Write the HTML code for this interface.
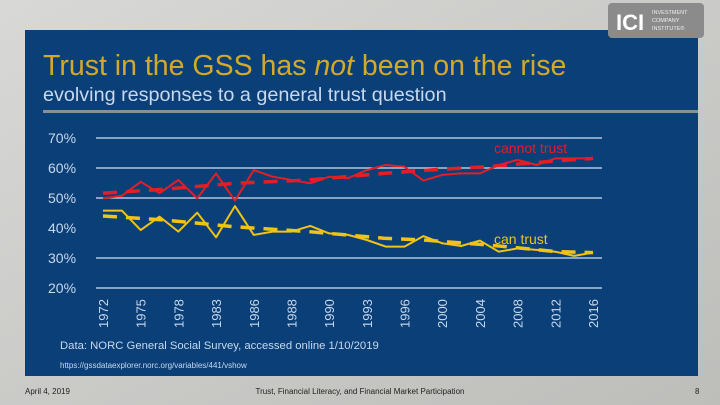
<!DOCTYPE html>
<html><head><meta charset="utf-8"><style>
body{margin:0;width:720px;height:405px;overflow:hidden;font-family:"Liberation Sans",sans-serif}
svg{display:block}
text{font-family:"Liberation Sans",sans-serif}
</style></head><body>
<svg width="720" height="405" viewBox="0 0 720 405">
<defs><linearGradient id="bg" x1="0" y1="0" x2="1" y2="1"><stop offset="0" stop-color="#d8d8d6"/><stop offset="1" stop-color="#bdbdba"/></linearGradient></defs>
<rect width="720" height="405" fill="url(#bg)"/>
<rect x="25" y="30" width="673" height="346" fill="#0a3f78"/>
<g>
<rect x="608" y="3" width="96" height="35" rx="4" fill="#8b8b8b"/>
<text x="616" y="30" font-size="22" font-weight="bold" fill="#fff">ICI</text>
<text x="652" y="14" font-size="5.5" fill="#eee">INVESTMENT</text>
<text x="652" y="22" font-size="5.5" fill="#eee">COMPANY</text>
<text x="652" y="30" font-size="5.5" fill="#eee">INSTITUTE®</text>
</g>
<text x="43" y="75" font-size="28.5" fill="#d4a92a">Trust in the GSS has <tspan font-style="italic">not</tspan> been on the rise</text>
<text x="43" y="101" font-size="19.8" fill="#c8d8ee">evolving responses to a general trust question</text>
<rect x="43" y="110" width="655" height="3" fill="#8a8f98"/>
<g id="chart"></g>
<text x="60" y="349" font-size="11.3" fill="#c8d8ee">Data: NORC General Social Survey, accessed online 1/10/2019</text>
<text x="60" y="368" font-size="8" fill="#c8d8ee">https://gssdataexplorer.norc.org/variables/441/vshow</text>
<text x="25" y="394" font-size="8" fill="#222">April 4, 2019</text>
<text x="360" y="394" font-size="8" fill="#222" text-anchor="middle">Trust, Financial Literacy, and Financial Market Participation</text>
<text x="695" y="394" font-size="8" fill="#222">8</text>
</svg>
<script>
const yTicks=[70,60,50,40,30,20];
const yTickLabels=["70%","60%","50%","40%","30%","20%"];
const xLabels=["1972","1975","1978","1983","1986","1988","1990","1993","1996","2000","2004","2008","2012","2016"];
const cannotTrust=[49.9,50.7,55.4,51.6,56,49.9,58.2,49.1,59.3,57.1,56,54.9,57.1,56.6,59.3,61,60.4,55.8,57.7,58.2,58.2,61,62.7,61,63.2,63.2,63.2];
const canTrust=[45.8,45.8,39.3,43.8,38.8,45.1,36.9,47.3,37.7,38.8,38.8,40.7,38.2,37.7,36,33.8,33.8,37.3,34.9,34,35.8,32.1,33.2,32.7,32.1,30.7,31.8];
const trendIdx=[0,3.2,7,10.9,14.9,17,20.5,24.1,26];
const cannotTrend=[51.6,52.9,54.9,56,58.2,59.2,60.5,62.4,63.2];
const canTrend=[44,42.7,40.4,38.8,36.6,36,34.3,32.1,31.8];
const gridLines=[70,60,50,30,20];
const NS="http://www.w3.org/2000/svg";
const g=document.getElementById('chart');
const x=i=>103+i*(593-103)/26;
const y=v=>138+(70-v)*3;
function mk(t,a){const e=document.createElementNS(NS,t);for(const k in a)e.setAttribute(k,a[k]);g.appendChild(e);return e;}
gridLines.forEach(v=>{const l=mk('line',{x1:96,x2:602,y1:y(v),y2:y(v),stroke:'#cfe0f5','stroke-width':1.2});

});
yTicks.forEach((v,i)=>{const t=mk('text',{x:48,y:y(v)+5,'font-size':14,fill:'#c8d8ee'});t.textContent=yTickLabels[i];

});
xLabels.forEach((s,i)=>{const xx=x(i*2)+5;const t=mk('text',{x:xx,y:328,'font-size':13,fill:'#c8d8ee',transform:`rotate(-90 ${xx} 328)`});t.textContent=s;

});
function line(vals,idx,col,w,dash,name){const p=vals.map((v,i)=>x(idx?idx[i]:i)+','+y(v)).join(' ');
const a={points:p,fill:'none',stroke:col,'stroke-width':w,'stroke-linejoin':'round'};if(dash)a['stroke-dasharray']=dash;
const e=mk('polyline',a);

}
line(cannotTrend,trendIdx,'#e31e25',3.5,'14 9','cannot-trust-trend');
line(canTrend,trendIdx,'#f2c315',3.5,'14 9','can-trust-trend');
line(cannotTrust,null,'#e31e25',2,null,'cannot-trust-line');
line(canTrust,null,'#f2c315',2,null,'can-trust-line');
const l1=mk('text',{x:494,y:153,'font-size':14,fill:'#e31e25'});l1.textContent='cannot trust';


const l2=mk('text',{x:494,y:244,'font-size':14,fill:'#f2c315'});l2.textContent='can trust';


</script>
</body></html>
